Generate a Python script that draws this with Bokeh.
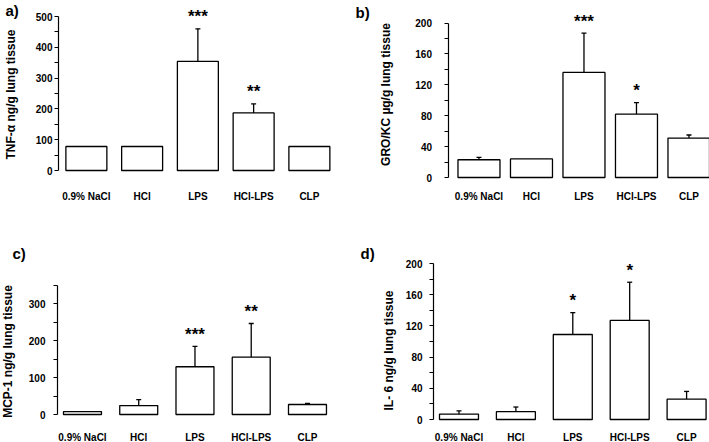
import math
from bokeh.plotting import figure
from bokeh.models import (FixedTicker, Whisker, ColumnDataSource, Range1d, TeeHead,
                          LinearAxis)
from bokeh.layouts import row, column
from bokeh.embed import file_html
from bokeh.resources import INLINE
from bokeh.core.properties import value

categories = ["0.9% NaCl", "HCl", "LPS", "HCl-LPS", "CLP"]

tnf_mean = [78, 78, 354, 187, 78]
tnf_err = [0, 0, 106, 29, 0]
tnf_stars = ["", "", "***", "**", ""]
tnf_ticks = [0, 100, 200, 300, 400, 500]
tnf_minor = [50, 150, 250, 350, 450]

gro_mean = [23, 24, 136, 82, 51]
gro_err = [3, 0, 51, 15, 4]
gro_stars = ["", "", "***", "*", ""]
gro_ticks = [0, 40, 80, 120, 160, 200]
gro_minor = [20, 60, 100, 140, 180]

mcp_mean = [8, 24, 129, 155, 27]
mcp_err = [0, 16, 55, 91, 3]
mcp_stars = ["", "", "***", "**", ""]
mcp_ticks = [0, 100, 200, 300]
mcp_minor = [50, 150, 250, 350]

il6_mean = [7, 10, 109, 127, 26]
il6_err = [4, 6, 28, 49, 10]
il6_stars = ["", "", "*", "*", ""]
il6_ticks = [0, 40, 80, 120, 160, 200]
il6_minor = [20, 60, 100, 140, 180]

FONT = "Liberation Sans"

# overall page size and mapping from the reference picture (709 x 442)
W, H = 709, 442
SX, SY = W / 709.0, H / 442.0
COL_SPLIT, ROW_SPLIT = 353, 212
WL = round(COL_SPLIT * SX)
HT = round(ROW_SPLIT * SY)


def make_panel(means, errs, stars, ticks, minor, top, letter, ytitle,
               ox, oy, fw, fh, axis_x, x0, spacing, zero_y, top_y,
               bar_w, letter_xy, title_xy, labels_y, ylab_gap):
    xs = list(range(1, len(categories) + 1))
    ppx = spacing * SX                       # px per category step
    ppy = (zero_y - top_y) * SY / top        # px per value unit
    ax_l = (axis_x - ox) * SX
    zero_l = (zero_y - oy) * SY
    x_start = x0 - ax_l / ppx
    x_end = x0 + (fw - ax_l) / ppx
    y_start = -(fh - zero_l) / ppy
    y_end = zero_l / ppy

    def to_data(rx, ry):
        return (x_start + (rx - ox) * SX / ppx, y_end - (ry - oy) * SY / ppy)

    p = figure(width=fw, height=fh, x_range=Range1d(x_start, x_end),
               y_range=Range1d(y_start, y_end), output_backend="svg",
               toolbar_location=None, min_border=0,
               x_axis_location=None, y_axis_location=None)
    p.outline_line_color = None
    p.grid.visible = False
    p.background_fill_color = "white"
    p.border_fill_color = "white"

    p.vbar(x=xs, top=means, bottom=0, width=bar_w, fill_color="white",
           line_color="black", line_width=1.3)

    idx = [i for i, e in enumerate(errs) if e > 0]
    src = ColumnDataSource(dict(x=[xs[i] for i in idx],
                                lower=[means[i] for i in idx],
                                upper=[means[i] + errs[i] for i in idx]))
    p.add_layout(Whisker(base="x", lower="lower", upper="upper", source=src,
                         line_color="black", line_width=1.3,
                         upper_head=TeeHead(size=5, line_color="black", line_width=1.3),
                         lower_head=None))

    sidx = [i for i, s in enumerate(stars) if s]
    p.text(x=[xs[i] for i in sidx], y=[means[i] + errs[i] for i in sidx],
           text=[stars[i] for i in sidx], text_align="center", text_baseline="middle",
           y_offset=-12, text_font=value(FONT), text_font_style="bold",
           text_font_size="17px", text_color="black")

    # y axis drawn at the left edge of the bar area
    ya = LinearAxis(fixed_location=x0, bounds=(0, top),
                    ticker=FixedTicker(ticks=ticks, minor_ticks=minor))
    ya.axis_line_color = "black"
    ya.axis_line_width = 1.2
    ya.major_tick_in = 0
    ya.major_tick_out = 4
    ya.minor_tick_in = 0
    ya.minor_tick_out = 4
    ya.major_tick_line_color = "black"
    ya.minor_tick_line_color = "black"
    ya.major_label_standoff = ylab_gap
    ya.major_label_text_font = FONT
    ya.major_label_text_font_style = "bold"
    ya.major_label_text_font_size = "10px"
    ya.major_label_text_color = "black"
    p.add_layout(ya, "left")

    # category labels
    xa = LinearAxis(fixed_location=0, ticker=FixedTicker(ticks=xs))
    xa.major_label_overrides = {x: c for x, c in zip(xs, categories)}
    xa.axis_line_color = None
    xa.major_tick_line_color = None
    xa.minor_tick_line_color = None
    xa.major_tick_out = 0
    xa.major_tick_in = 0
    xa.minor_tick_out = 0
    xa.major_label_standoff = round((labels_y - zero_y) * SY - 5)
    xa.major_label_text_font = FONT
    xa.major_label_text_font_style = "bold"
    xa.major_label_text_font_size = "10px"
    xa.major_label_text_color = "black"
    p.add_layout(xa, "below")

    lx, ly = to_data(*letter_xy)
    p.text(x=[lx], y=[ly], text=[letter], text_align="left", text_baseline="middle",
           text_font=value(FONT), text_font_style="bold", text_font_size="15px",
           text_color="black")
    tx, ty = to_data(*title_xy)
    p.text(x=[tx], y=[ty], text=[ytitle], angle=math.pi / 2, text_align="center",
           text_baseline="middle", text_font=value(FONT), text_font_style="bold",
           text_font_size="12px", text_color="black")
    return p


pa = make_panel(tnf_mean, tnf_err, tnf_stars, tnf_ticks, tnf_minor, 500, "a)",
                "TNF-\u03b1 ng/g lung tissue",
                0, 0, WL, HT, 58, 0.5, 55.75, 170, 16, 0.735,
                (5, 10), (10, 94), 195, 2)
pb = make_panel(gro_mean, gro_err, gro_stars, gro_ticks, gro_minor, 200, "b)",
                "GRO/KC \u00b5g/g lung tissue",
                COL_SPLIT, 0, W - WL, HT, 447.5, 0.41, 52.5, 177, 22.5, 0.8,
                (355, 12), (385, 94), 195, 12)
pc = make_panel(mcp_mean, mcp_err, mcp_stars, mcp_ticks, mcp_minor, 350, "c)",
                "MCP-1 ng/g lung tissue",
                0, ROW_SPLIT, WL, H - HT, 57, 0.556, 56.25, 414, 284.5, 0.675,
                (12, 253), (7, 351), 436, 8)
pd = make_panel(il6_mean, il6_err, il6_stars, il6_ticks, il6_minor, 200, "d)",
                "IL- 6 ng/g lung tissue",
                COL_SPLIT, ROW_SPLIT, W - WL, H - HT, 433, 0.552, 56.9, 419, 263, 0.685,
                (360, 253), (388, 350), 436, 7)

layout = column(row(pa, pb), row(pc, pd))
open("out.html", "w").write(file_html(layout, INLINE))
